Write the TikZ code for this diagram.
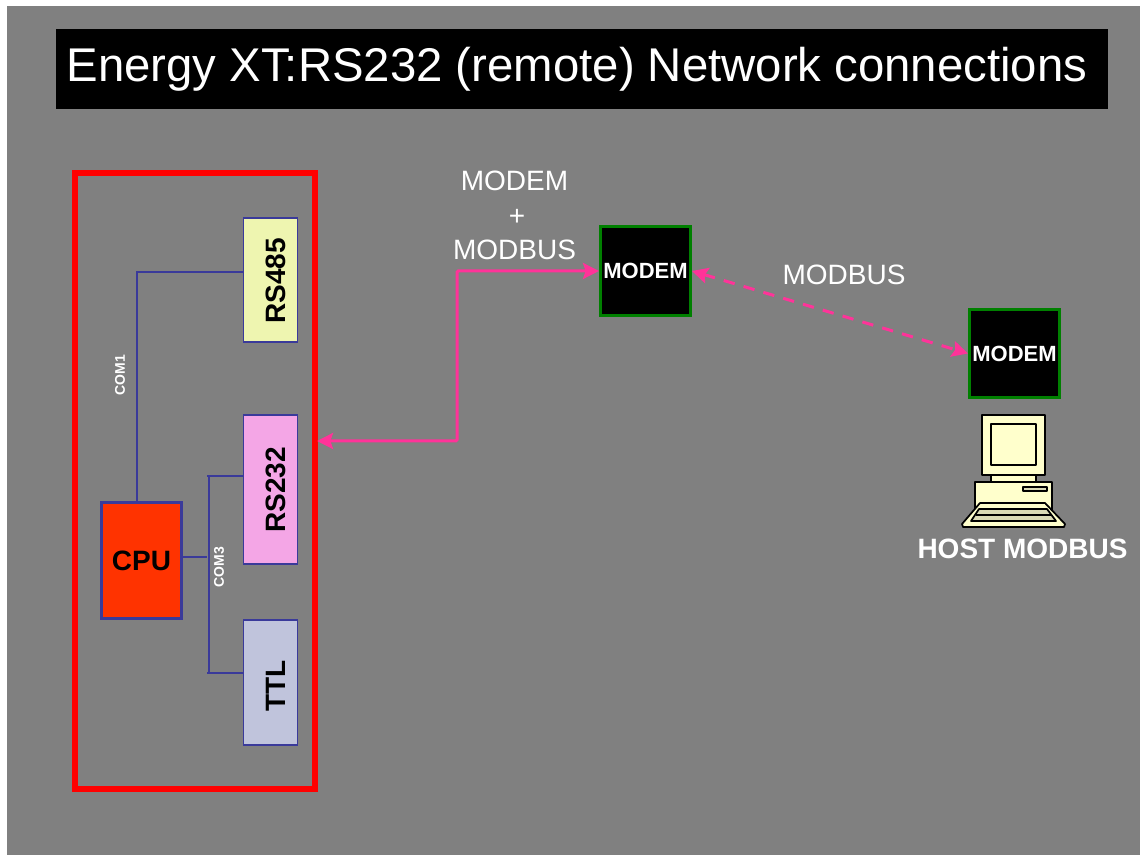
\documentclass[tikz,border=0pt]{standalone}
\usepackage{fontspec}
\setmainfont{Liberation Sans}
\usetikzlibrary{arrows.meta}
\definecolor{slidegray}{HTML}{808080}
\definecolor{wireblue}{HTML}{3A3A9A}
\definecolor{linkpink}{HTML}{FF3399}
\definecolor{modemgreen}{HTML}{008000}
\definecolor{pccream}{HTML}{FFFFCC}
\tikzset{
  portbox/.style={draw=wireblue, line width=0.9pt, inner sep=0pt, minimum width=40pt, minimum height=#1},
  porttext/.style={font=\fontsize{21}{21}\selectfont\bfseries, rotate=90, black},
  modembox/.style={draw=modemgreen, fill=black, line width=2.25pt, inner sep=0pt, minimum width=67.5pt, minimum height=66.5pt,
    text=white, font=\fontsize{16.5}{16.5}\selectfont\bfseries},
  wire/.style={draw=wireblue, line width=0.9pt},
  link/.style={draw=linkpink, line width=2.25pt},
  slidetext/.style={text=white, inner sep=0pt, font=\fontsize{21}{21}\selectfont},
  comtext/.style={text=white, inner sep=0pt, rotate=90, font=\fontsize{10.5}{10.5}\selectfont\bfseries},
  pcpart/.style={draw=black, fill=pccream, line width=1.3pt, line join=round}
}
\begin{document}
\begin{tikzpicture}[x=0.75pt, y=-0.75pt, >={Stealth[length=12pt, width=12pt, inset=2pt]}]
  \useasboundingbox (0,0) rectangle (1140,855);
  \fill[white] (0,0) rectangle (1140,855);
  \fill[slidegray] (7,6) rectangle (1140,855);

  % Title bar
  \fill[black] (56,29) rectangle (1108,109);
  \node[slidetext, font=\fontsize{35.5}{35.5}\selectfont] (title) at (577,69) {Energy XT:RS232 (remote) Network connections};

  % Device frame
  \node[draw=red, line width=4.5pt, inner sep=0pt, minimum width=180pt, minimum height=461.5pt] (frame) at (195,481) {};

  % Ports and CPU
  \node[portbox=93pt, fill={rgb,255:red,238;green,245;blue,176}] (rs485) at (270.5,280) {};
  \node[porttext] (rs485text) at (275.5,281) {RS485};
  \node[portbox=111.75pt, fill={rgb,255:red,244;green,166;blue,230}] (rs232) at (270.5,489.5) {};
  \node[porttext] (rs232text) at (275.5,490) {RS232};
  \node[portbox=93.75pt, fill={rgb,255:red,192;green,196;blue,220}] (ttl) at (270.5,682.5) {};
  \node[porttext] (ttltext) at (275.5,686) {TTL};
  \node[draw=wireblue, fill={rgb,255:red,255;green,51;blue,0}, line width=2.25pt, inner sep=0pt, minimum width=60pt, minimum height=86.5pt,
    font=\fontsize{21}{21}\selectfont\bfseries] (cpu) at (141.5,560.5) {CPU};

  % COM1 wire
  \coordinate (com1bend) at (137,272);
  \draw[wire] (cpu.north -| com1bend) -- (com1bend) -- (rs485.west |- com1bend);
  \node[comtext] (com1) at (120,375) {COM1};

  % COM3 wires
  \coordinate (bustop) at (209,476);
  \coordinate (busmid) at (207,557);
  \coordinate (busend) at (209,673);
  \draw[wire] (bustop) -- (busend);
  \draw[wire] (cpu.east |- busmid) -- (busmid);
  \draw[wire] (207,476) -- (rs232.west |- bustop);
  \draw[wire] (207,673) -- (ttl.west |- busend);
  \node[comtext] (com3) at (219,567) {COM3};

  % Modems
  \node[modembox] (modema) at (645.5,271) {MODEM};
  \node[modembox] (modemb) at (1014.5,353.5) {MODEM};

  % Pink links
  \coordinate (rsport) at (317,441);
  \coordinate (linkbottom) at (457,441);
  \draw[link, <->, rounded corners=1pt] (rsport) -- (linkbottom) -- (linkbottom |- modema.west) -- (modema.west);
  \draw[link, <->, dash pattern=on 8.5pt off 7pt] (modema.east) -- (modemb.west);

  % Link labels
  \node[slidetext] (labmodem) at (514.5,181) {MODEM};
  \node[slidetext] (labplus) at (517,217) {+};
  \node[slidetext] (labmodbus) at (514.5,250) {MODBUS};
  \node[slidetext] (labmodbusb) at (844,275) {MODBUS};

  % Host computer
  \draw[pcpart] (991,475) rectangle (1036,482);
  \draw[pcpart] (982,415) rectangle (1045,475);
  \draw[pcpart] (991,424) rectangle (1036,465);
  \draw[pcpart] (975,482) rectangle (1052,515);
  \draw[pcpart, fill=pccream!70!gray] (1023,487) rectangle (1047,491);
  \draw[pcpart] (980,503) -- (1045,503) -- (1065,524) -- (1064,527) -- (963,527) -- (962,524) -- cycle;
  \draw[pcpart, fill=pccream!70!gray] (979,509) -- (1047,509) -- (1056,521) -- (971,521) -- cycle;
  \draw[black, line width=1.6pt] (976,515) -- (1051,515);
  \node[slidetext, font=\fontsize{21}{21}\selectfont\bfseries] (host) at (1022.5,549) {HOST MODBUS};
\end{tikzpicture}
\end{document}
